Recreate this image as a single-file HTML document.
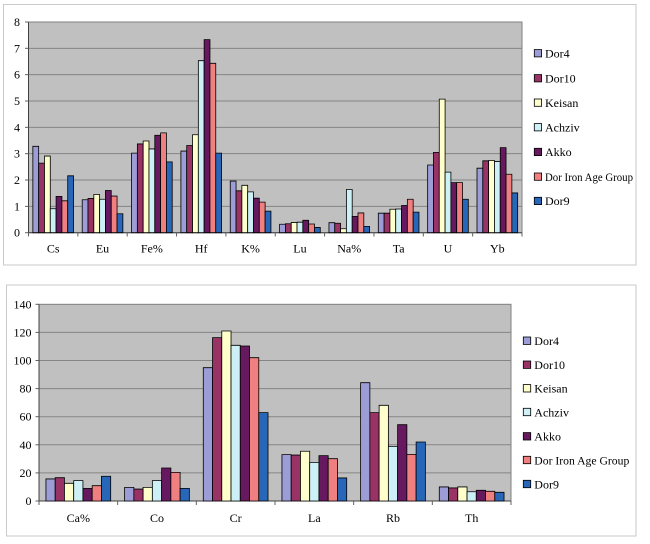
<!DOCTYPE html>
<html><head><meta charset="utf-8"><style>
html,body{margin:0;padding:0;background:#fff;font-family:"Liberation Serif","DejaVu Serif","Times New Roman",serif;}
svg{display:block;font-family:"Liberation Serif","DejaVu Serif","Times New Roman",serif;}
svg text{font-family:"Liberation Serif","DejaVu Serif","Times New Roman",serif;fill:#000;}
.b rect{stroke:#000;stroke-width:0.8;vector-effect:non-scaling-stroke;}
.s0{fill:#9c9cd6}.s1{fill:#993366}.s2{fill:#ffffcc}.s3{fill:#cdf0f6}.s4{fill:#66195e}.s5{fill:#f08080}.s6{fill:#2866b8}
.lg rect{stroke:#000;stroke-width:0.8;}
.grid line{stroke:#858585;stroke-width:1;}
</style></head><body>
<svg width="650" height="544" viewBox="0 0 650 544" xmlns="http://www.w3.org/2000/svg" font-family="Liberation Serif, DejaVu Serif, serif">
<!-- ===== TOP CHART ===== -->
<rect x="3.5" y="4.5" width="632.5" height="260.5" fill="#fff" stroke="#cacaca" stroke-width="1"/>
<rect x="28.5" y="22" width="493.5" height="210.7" fill="#c0c0c0" stroke="#808080" stroke-width="1"/>
<g class="grid">
<line x1="28.5" x2="522" y1="206.36" y2="206.36"/>
<line x1="28.5" x2="522" y1="180.02" y2="180.02"/>
<line x1="28.5" x2="522" y1="153.68" y2="153.68"/>
<line x1="28.5" x2="522" y1="127.34" y2="127.34"/>
<line x1="28.5" x2="522" y1="101.0" y2="101.0"/>
<line x1="28.5" x2="522" y1="74.66" y2="74.66"/>
<line x1="28.5" x2="522" y1="48.32" y2="48.32"/>
</g>
<line x1="28.5" x2="28.5" y1="22" y2="232.7" stroke="#404040"/>
<line x1="28.5" x2="522" y1="232.7" y2="232.7" stroke="#404040"/>
<g stroke="#606060" stroke-width="1">
<line x1="25" x2="28.5" y1="232.7" y2="232.7"/><line x1="25" x2="28.5" y1="206.36" y2="206.36"/><line x1="25" x2="28.5" y1="180.02" y2="180.02"/><line x1="25" x2="28.5" y1="153.68" y2="153.68"/><line x1="25" x2="28.5" y1="127.34" y2="127.34"/><line x1="25" x2="28.5" y1="101" y2="101"/><line x1="25" x2="28.5" y1="74.66" y2="74.66"/><line x1="25" x2="28.5" y1="48.32" y2="48.32"/><line x1="25" x2="28.5" y1="22" y2="22"/>
<line x1="28.5" x2="28.5" y1="232.7" y2="236.5"/><line x1="77.85" x2="77.85" y1="232.7" y2="236.5"/><line x1="127.2" x2="127.2" y1="232.7" y2="236.5"/><line x1="176.55" x2="176.55" y1="232.7" y2="236.5"/><line x1="225.9" x2="225.9" y1="232.7" y2="236.5"/><line x1="275.25" x2="275.25" y1="232.7" y2="236.5"/><line x1="324.6" x2="324.6" y1="232.7" y2="236.5"/><line x1="373.95" x2="373.95" y1="232.7" y2="236.5"/><line x1="423.3" x2="423.3" y1="232.7" y2="236.5"/><line x1="472.65" x2="472.65" y1="232.7" y2="236.5"/><line x1="522" x2="522" y1="232.7" y2="236.5"/>
</g>
<g font-size="12" text-anchor="end" font-family="Liberation Serif, DejaVu Serif, serif">
<text x="20" y="236.7">0</text><text x="20" y="210.4">1</text><text x="20" y="184">2</text><text x="20" y="157.7">3</text><text x="20" y="131.3">4</text><text x="20" y="105">5</text><text x="20" y="78.7">6</text><text x="20" y="52.3">7</text><text x="20" y="26">8</text>
</g>
<g font-size="12" text-anchor="middle" font-family="Liberation Serif, DejaVu Serif, serif">
<text x="53.18" y="252.5">Cs</text><text x="102.53" y="252.5">Eu</text><text x="151.88" y="252.5">Fe%</text><text x="201.23" y="252.5">Hf</text><text x="250.58" y="252.5">K%</text><text x="299.93" y="252.5">Lu</text><text x="349.28" y="252.5">Na%</text><text x="398.63" y="252.5">Ta</text><text x="447.98" y="252.5">U</text><text x="497.33" y="252.5">Yb</text>
</g>
<g class="b">
<g transform="translate(32.85,232.7) scale(1,-26.34)"><rect class="s0" x="0" y="0" width="5.81" height="3.28"/><rect class="s1" x="5.81" y="0" width="5.81" height="2.64"/><rect class="s2" x="11.62" y="0" width="5.81" height="2.91"/><rect class="s3" x="17.43" y="0" width="5.81" height="0.91"/><rect class="s4" x="23.24" y="0" width="5.81" height="1.38"/><rect class="s5" x="29.05" y="0" width="5.81" height="1.21"/><rect class="s6" x="34.86" y="0" width="5.81" height="2.16"/></g>
<g transform="translate(82.2,232.7) scale(1,-26.34)"><rect class="s0" x="0" y="0" width="5.81" height="1.25"/><rect class="s1" x="5.81" y="0" width="5.81" height="1.30"/><rect class="s2" x="11.62" y="0" width="5.81" height="1.45"/><rect class="s3" x="17.43" y="0" width="5.81" height="1.27"/><rect class="s4" x="23.24" y="0" width="5.81" height="1.60"/><rect class="s5" x="29.05" y="0" width="5.81" height="1.39"/><rect class="s6" x="34.86" y="0" width="5.81" height="0.72"/></g>
<g transform="translate(131.55,232.7) scale(1,-26.34)"><rect class="s0" x="0" y="0" width="5.81" height="3.02"/><rect class="s1" x="5.81" y="0" width="5.81" height="3.37"/><rect class="s2" x="11.62" y="0" width="5.81" height="3.48"/><rect class="s3" x="17.43" y="0" width="5.81" height="3.18"/><rect class="s4" x="23.24" y="0" width="5.81" height="3.70"/><rect class="s5" x="29.05" y="0" width="5.81" height="3.79"/><rect class="s6" x="34.86" y="0" width="5.81" height="2.69"/></g>
<g transform="translate(180.9,232.7) scale(1,-26.34)"><rect class="s0" x="0" y="0" width="5.81" height="3.10"/><rect class="s1" x="5.81" y="0" width="5.81" height="3.31"/><rect class="s2" x="11.62" y="0" width="5.81" height="3.72"/><rect class="s3" x="17.43" y="0" width="5.81" height="6.53"/><rect class="s4" x="23.24" y="0" width="5.81" height="7.33"/><rect class="s5" x="29.05" y="0" width="5.81" height="6.43"/><rect class="s6" x="34.86" y="0" width="5.81" height="3.02"/></g>
<g transform="translate(230.25,232.7) scale(1,-26.34)"><rect class="s0" x="0" y="0" width="5.81" height="1.96"/><rect class="s1" x="5.81" y="0" width="5.81" height="1.59"/><rect class="s2" x="11.62" y="0" width="5.81" height="1.80"/><rect class="s3" x="17.43" y="0" width="5.81" height="1.55"/><rect class="s4" x="23.24" y="0" width="5.81" height="1.31"/><rect class="s5" x="29.05" y="0" width="5.81" height="1.16"/><rect class="s6" x="34.86" y="0" width="5.81" height="0.82"/></g>
<g transform="translate(279.6,232.7) scale(1,-26.34)"><rect class="s0" x="0" y="0" width="5.81" height="0.32"/><rect class="s1" x="5.81" y="0" width="5.81" height="0.34"/><rect class="s2" x="11.62" y="0" width="5.81" height="0.39"/><rect class="s3" x="17.43" y="0" width="5.81" height="0.40"/><rect class="s4" x="23.24" y="0" width="5.81" height="0.47"/><rect class="s5" x="29.05" y="0" width="5.81" height="0.33"/><rect class="s6" x="34.86" y="0" width="5.81" height="0.20"/></g>
<g transform="translate(328.95,232.7) scale(1,-26.34)"><rect class="s0" x="0" y="0" width="5.81" height="0.38"/><rect class="s1" x="5.81" y="0" width="5.81" height="0.36"/><rect class="s2" x="11.62" y="0" width="5.81" height="0.15"/><rect class="s3" x="17.43" y="0" width="5.81" height="1.64"/><rect class="s4" x="23.24" y="0" width="5.81" height="0.62"/><rect class="s5" x="29.05" y="0" width="5.81" height="0.75"/><rect class="s6" x="34.86" y="0" width="5.81" height="0.24"/></g>
<g transform="translate(378.3,232.7) scale(1,-26.34)"><rect class="s0" x="0" y="0" width="5.81" height="0.74"/><rect class="s1" x="5.81" y="0" width="5.81" height="0.74"/><rect class="s2" x="11.62" y="0" width="5.81" height="0.89"/><rect class="s3" x="17.43" y="0" width="5.81" height="0.90"/><rect class="s4" x="23.24" y="0" width="5.81" height="1.03"/><rect class="s5" x="29.05" y="0" width="5.81" height="1.27"/><rect class="s6" x="34.86" y="0" width="5.81" height="0.78"/></g>
<g transform="translate(427.65,232.7) scale(1,-26.34)"><rect class="s0" x="0" y="0" width="5.81" height="2.57"/><rect class="s1" x="5.81" y="0" width="5.81" height="3.05"/><rect class="s2" x="11.62" y="0" width="5.81" height="5.07"/><rect class="s3" x="17.43" y="0" width="5.81" height="2.30"/><rect class="s4" x="23.24" y="0" width="5.81" height="1.90"/><rect class="s5" x="29.05" y="0" width="5.81" height="1.90"/><rect class="s6" x="34.86" y="0" width="5.81" height="1.27"/></g>
<g transform="translate(477.0,232.7) scale(1,-26.34)"><rect class="s0" x="0" y="0" width="5.81" height="2.45"/><rect class="s1" x="5.81" y="0" width="5.81" height="2.73"/><rect class="s2" x="11.62" y="0" width="5.81" height="2.74"/><rect class="s3" x="17.43" y="0" width="5.81" height="2.70"/><rect class="s4" x="23.24" y="0" width="5.81" height="3.23"/><rect class="s5" x="29.05" y="0" width="5.81" height="2.22"/><rect class="s6" x="34.86" y="0" width="5.81" height="1.51"/></g>
</g>
<g class="lg" font-size="12" font-family="Liberation Serif, DejaVu Serif, serif">
<rect class="s0" x="534.3" y="49.6" width="7.3" height="7.3"/><text x="545" y="57.5">Dor4</text>
<rect class="s1" x="534.3" y="74.6" width="7.3" height="7.3"/><text x="545" y="82.5">Dor10</text>
<rect class="s2" x="534.3" y="99" width="7.3" height="7.3"/><text x="545" y="106.9">Keisan</text>
<rect class="s3" x="534.3" y="123.6" width="7.3" height="7.3"/><text x="545" y="131.5">Achziv</text>
<rect class="s4" x="534.3" y="148.3" width="7.3" height="7.3"/><text x="545" y="156.2">Akko</text>
<rect class="s5" x="534.3" y="173" width="7.3" height="7.3"/><text x="545" y="180.9" textLength="88" lengthAdjust="spacingAndGlyphs">Dor Iron Age Group</text>
<rect class="s6" x="534.3" y="197.3" width="7.3" height="7.3"/><text x="545" y="205.2">Dor9</text>
</g>

<!-- ===== BOTTOM CHART ===== -->
<rect x="6.5" y="285" width="629.5" height="251" fill="#fff" stroke="#cacaca" stroke-width="1"/>
<rect x="39" y="304.3" width="472" height="196.7" fill="#c0c0c0" stroke="#808080" stroke-width="1"/>
<g class="grid">
<line x1="39" x2="511" y1="472.9" y2="472.9"/>
<line x1="39" x2="511" y1="444.8" y2="444.8"/>
<line x1="39" x2="511" y1="416.7" y2="416.7"/>
<line x1="39" x2="511" y1="388.6" y2="388.6"/>
<line x1="39" x2="511" y1="360.5" y2="360.5"/>
<line x1="39" x2="511" y1="332.4" y2="332.4"/>
</g>
<line x1="39" x2="39" y1="304.3" y2="501" stroke="#404040"/>
<line x1="39" x2="511" y1="501" y2="501" stroke="#404040"/>
<g stroke="#606060" stroke-width="1">
<line x1="35.5" x2="39" y1="501" y2="501"/><line x1="35.5" x2="39" y1="472.9" y2="472.9"/><line x1="35.5" x2="39" y1="444.8" y2="444.8"/><line x1="35.5" x2="39" y1="416.7" y2="416.7"/><line x1="35.5" x2="39" y1="388.6" y2="388.6"/><line x1="35.5" x2="39" y1="360.5" y2="360.5"/><line x1="35.5" x2="39" y1="332.4" y2="332.4"/><line x1="35.5" x2="39" y1="304.3" y2="304.3"/>
<line x1="39" x2="39" y1="501" y2="505"/><line x1="117.67" x2="117.67" y1="501" y2="505"/><line x1="196.33" x2="196.33" y1="501" y2="505"/><line x1="275" x2="275" y1="501" y2="505"/><line x1="353.67" x2="353.67" y1="501" y2="505"/><line x1="432.33" x2="432.33" y1="501" y2="505"/><line x1="511" x2="511" y1="501" y2="505"/>
</g>
<g font-size="12" text-anchor="end" font-family="Liberation Serif, DejaVu Serif, serif">
<text x="31.5" y="505">0</text><text x="31.5" y="476.9">20</text><text x="31.5" y="448.8">40</text><text x="31.5" y="420.7">60</text><text x="31.5" y="392.6">80</text><text x="31.5" y="364.5">100</text><text x="31.5" y="336.4">120</text><text x="31.5" y="308.3">140</text>
</g>
<g font-size="12" text-anchor="middle" font-family="Liberation Serif, DejaVu Serif, serif">
<text x="78.33" y="522">Ca%</text><text x="157" y="522">Co</text><text x="235.67" y="522">Cr</text><text x="314.33" y="522">La</text><text x="393" y="522">Rb</text><text x="471.67" y="522">Th</text>
</g>
<g class="b">
<g transform="translate(45.94,501) scale(1,-1.405)"><rect class="s0" x="0" y="0" width="9.25" height="15.7"/><rect class="s1" x="9.25" y="0" width="9.25" height="16.6"/><rect class="s2" x="18.5" y="0" width="9.25" height="12.6"/><rect class="s3" x="27.75" y="0" width="9.25" height="14.5"/><rect class="s4" x="37" y="0" width="9.25" height="9.0"/><rect class="s5" x="46.25" y="0" width="9.25" height="10.9"/><rect class="s6" x="55.5" y="0" width="9.25" height="17.6"/></g>
<g transform="translate(124.61,501) scale(1,-1.405)"><rect class="s0" x="0" y="0" width="9.25" height="9.7"/><rect class="s1" x="9.25" y="0" width="9.25" height="8.5"/><rect class="s2" x="18.5" y="0" width="9.25" height="9.7"/><rect class="s3" x="27.75" y="0" width="9.25" height="14.5"/><rect class="s4" x="37" y="0" width="9.25" height="23.5"/><rect class="s5" x="46.25" y="0" width="9.25" height="20.4"/><rect class="s6" x="55.5" y="0" width="9.25" height="9.0"/></g>
<g transform="translate(203.28,501) scale(1,-1.405)"><rect class="s0" x="0" y="0" width="9.25" height="94.9"/><rect class="s1" x="9.25" y="0" width="9.25" height="116.3"/><rect class="s2" x="18.5" y="0" width="9.25" height="121"/><rect class="s3" x="27.75" y="0" width="9.25" height="110.8"/><rect class="s4" x="37" y="0" width="9.25" height="110.3"/><rect class="s5" x="46.25" y="0" width="9.25" height="102"/><rect class="s6" x="55.5" y="0" width="9.25" height="62.9"/></g>
<g transform="translate(281.95,501) scale(1,-1.405)"><rect class="s0" x="0" y="0" width="9.25" height="33"/><rect class="s1" x="9.25" y="0" width="9.25" height="32.7"/><rect class="s2" x="18.5" y="0" width="9.25" height="35.4"/><rect class="s3" x="27.75" y="0" width="9.25" height="27.5"/><rect class="s4" x="37" y="0" width="9.25" height="32.3"/><rect class="s5" x="46.25" y="0" width="9.25" height="30.1"/><rect class="s6" x="55.5" y="0" width="9.25" height="16.4"/></g>
<g transform="translate(360.62,501) scale(1,-1.405)"><rect class="s0" x="0" y="0" width="9.25" height="84.2"/><rect class="s1" x="9.25" y="0" width="9.25" height="62.9"/><rect class="s2" x="18.5" y="0" width="9.25" height="68.1"/><rect class="s3" x="27.75" y="0" width="9.25" height="38.9"/><rect class="s4" x="37" y="0" width="9.25" height="54.3"/><rect class="s5" x="46.25" y="0" width="9.25" height="33.2"/><rect class="s6" x="55.5" y="0" width="9.25" height="42"/></g>
<g transform="translate(439.29,501) scale(1,-1.405)"><rect class="s0" x="0" y="0" width="9.25" height="10"/><rect class="s1" x="9.25" y="0" width="9.25" height="9.3"/><rect class="s2" x="18.5" y="0" width="9.25" height="10"/><rect class="s3" x="27.75" y="0" width="9.25" height="6.6"/><rect class="s4" x="37" y="0" width="9.25" height="7.6"/><rect class="s5" x="46.25" y="0" width="9.25" height="6.9"/><rect class="s6" x="55.5" y="0" width="9.25" height="6.2"/></g>
</g>
<g class="lg" font-size="12" font-family="Liberation Serif, DejaVu Serif, serif">
<rect class="s0" x="523.3" y="337" width="7.4" height="7.4"/><text x="534.3" y="345">Dor4</text>
<rect class="s1" x="523.3" y="361" width="7.4" height="7.4"/><text x="534.3" y="369">Dor10</text>
<rect class="s2" x="523.3" y="384.6" width="7.4" height="7.4"/><text x="534.3" y="392.6">Keisan</text>
<rect class="s3" x="523.3" y="408.3" width="7.4" height="7.4"/><text x="534.3" y="416.3">Achziv</text>
<rect class="s4" x="523.3" y="432.6" width="7.4" height="7.4"/><text x="534.3" y="440.6">Akko</text>
<rect class="s5" x="523.3" y="456.3" width="7.4" height="7.4"/><text x="534.3" y="464.3" textLength="95" lengthAdjust="spacingAndGlyphs">Dor Iron Age Group</text>
<rect class="s6" x="523.3" y="480.3" width="7.4" height="7.4"/><text x="534.3" y="488.3">Dor9</text>
</g>
</svg>
</body></html>
